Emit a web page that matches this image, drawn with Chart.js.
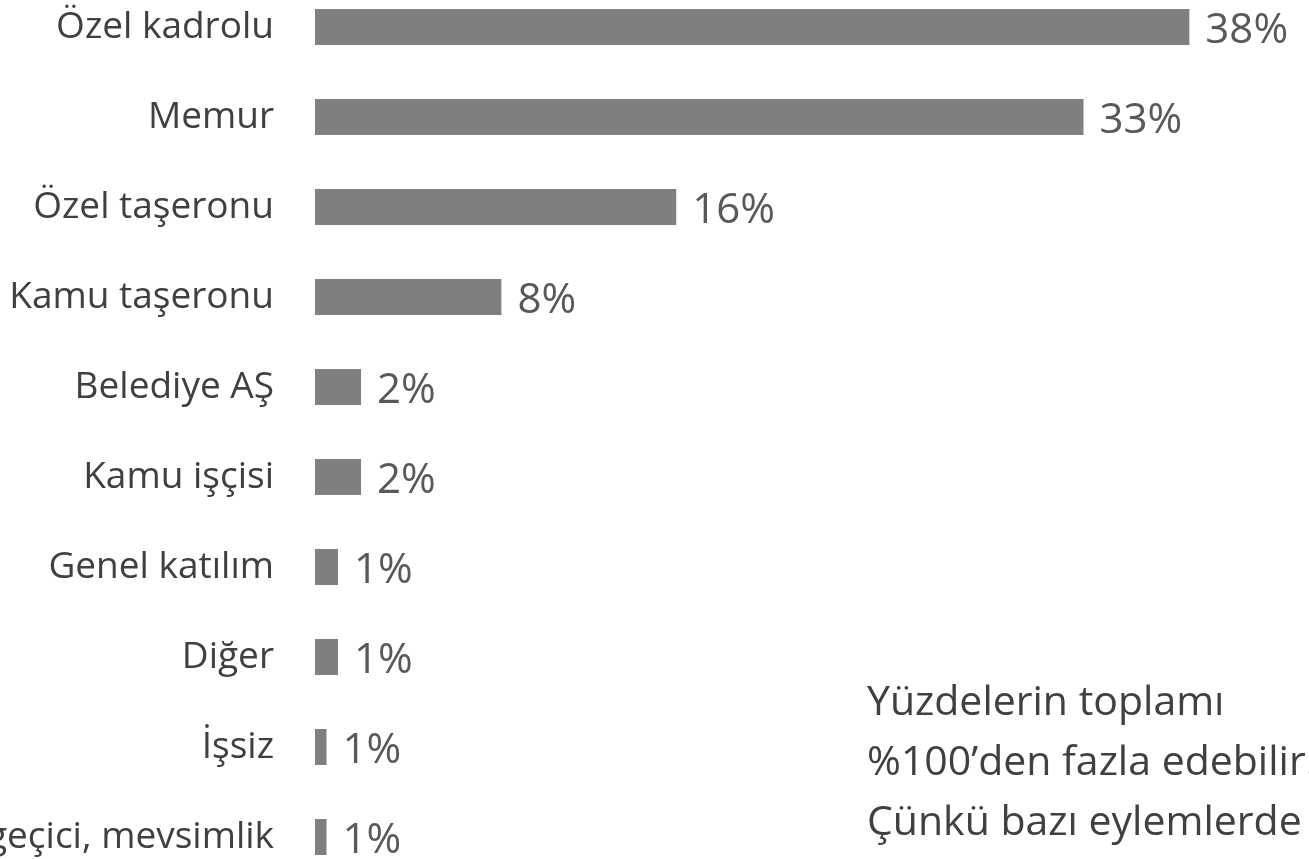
<!DOCTYPE html>
<html lang="tr">
<head>
<meta charset="utf-8">
<title>Eylemlerin çalışan kesimlerine göre dağılımı</title>
<script src="https://cdn.jsdelivr.net/npm/chart.js@4"></script>
<style>
  html, body { margin: 0; padding: 0; background: #fff; overflow: hidden; }
  #wrap { position: relative; width: 1309px; height: 859px; }
</style>
</head>
<body>
<div id="wrap"><canvas id="chart" width="1309" height="859"></canvas></div>
<script>
// ============================================
// DATA
// ============================================

// Row labels, top to bottom
const categories = [
    'Özel kadrolu', 'Memur', 'Özel taşeronu', 'Kamu taşeronu', 'Belediye AŞ',
    'Kamu işçisi', 'Genel katılım', 'Diğer', 'İşsiz', 'Sözleşmeli, geçici, mevsimlik'
];

// Share of protests (%)
const shares = [38.0, 33.4, 15.7, 8.1, 2.0, 2.0, 1.0, 1.0, 0.5, 0.5];

// Side note (bottom right, runs off the page in the original)
const noteLines = [
    'Yüzdelerin toplamı',
    '%100’den fazla edebilir.',
    'Çünkü bazı eylemlerde',
    'birden fazla kesim yer alır.'
];

const FONT = '"Open Sans", "Noto Sans", sans-serif';

// ============================================
// PLUGINS
// ============================================

// Percentage label at the end of each bar
const valueLabels = {
    id: 'valueLabels',
    afterDatasetsDraw(chart) {
        const ctx = chart.ctx;
        const meta = chart.getDatasetMeta(0);
        ctx.save();
        ctx.font = '42px ' + FONT;
        ctx.fillStyle = '#595959';
        ctx.textAlign = 'left';
        ctx.textBaseline = 'alphabetic';
        meta.data.forEach((bar, i) => {
            ctx.fillText(Math.round(shares[i]) + '%', bar.x + 16, bar.y + 16);
        });
        ctx.restore();
    }
};

// Note text in the lower right corner
const sideNote = {
    id: 'sideNote',
    afterDraw(chart) {
        const ctx = chart.ctx;
        ctx.save();
        ctx.font = '41px ' + FONT;
        ctx.fillStyle = '#404040';
        ctx.textAlign = 'left';
        ctx.textBaseline = 'alphabetic';
        noteLines.forEach((line, i) => {
            ctx.fillText(line, 867, 715 + i * 60);
        });
        ctx.restore();
    }
};

// ============================================
// CHART
// ============================================

new Chart(document.getElementById('chart').getContext('2d'), {
    type: 'bar',
    data: {
        labels: categories,
        datasets: [{
            data: shares,
            backgroundColor: '#7f7f7f',
            barPercentage: 0.4,
            categoryPercentage: 1,
            clip: false
        }]
    },
    options: {
        indexAxis: 'y',
        responsive: false,
        animation: false,
        layout: { padding: { top: 27, bottom: 22, left: 0, right: 0 } },
        plugins: {
            legend: { display: false },
            tooltip: { enabled: false }
        },
        scales: {
            x: { min: 0, max: 43.2, display: false },
            y: {
                offset: false,
                grid: { display: false, drawTicks: false },
                border: { display: false },
                ticks: {
                    color: '#404040',
                    font: { family: FONT, size: 37 },
                    padding: 41,
                    autoSkip: false
                },
                // fixed label column, and no extra room for the end labels
                afterFit(scale) {
                    scale.width = 315;
                    scale.paddingTop = 0;
                    scale.paddingBottom = 0;
                }
            }
        }
    },
    plugins: [valueLabels, sideNote]
});
</script>
</body>
</html>
